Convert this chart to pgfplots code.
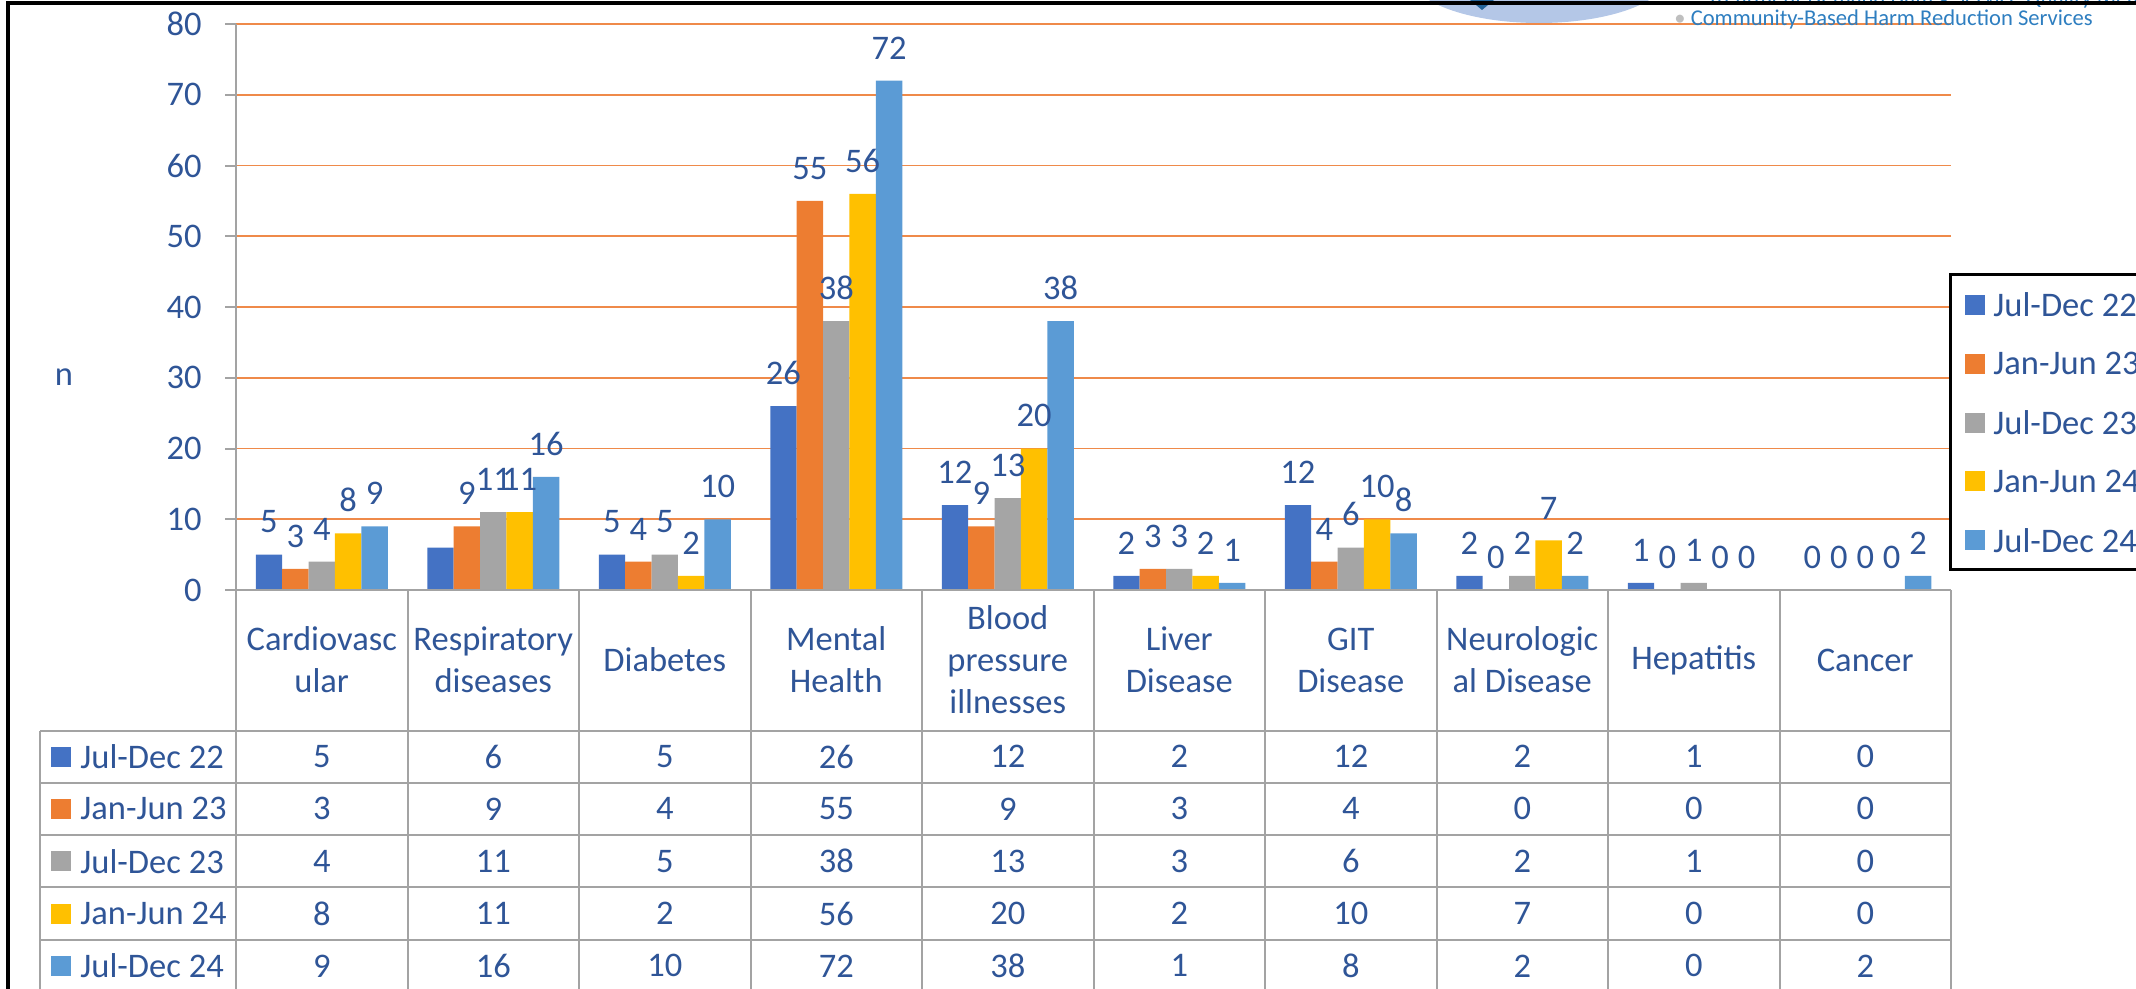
\documentclass[border=0pt]{standalone}
\usepackage{fontspec}
\setmainfont{Carlito}
\usepackage{pgfplots}
\usepackage{pgfplotstable}
\pgfplotsset{compat=1.18}
\definecolor{cA}{HTML}{4472C4}
\definecolor{cB}{HTML}{ED7D31}
\definecolor{cC}{HTML}{A5A5A5}
\definecolor{cD}{HTML}{FFC000}
\definecolor{cE}{HTML}{5B9BD5}
\definecolor{txt}{HTML}{2F5597}
\definecolor{gridc}{HTML}{EF8A4A}
\definecolor{tbl}{HTML}{A3A3A3}
\definecolor{logo}{HTML}{B4C7E7}
\definecolor{logotxt}{HTML}{2E7EC0}
\newcommand\cf{\fontsize{17.25}{21}\selectfont}

% la = data labels shown for the first series (the 6 of Respiratory has none in the reference)
\pgfplotstableread{
x a b c d e la
0.5 5 3 4 8 9 5
1.5 6 9 11 11 16 {}
2.5 5 4 5 2 10 5
3.5 26 55 38 56 72 26
4.5 12 9 13 20 38 12
5.5 2 3 3 2 1 2
6.5 12 4 6 10 8 12
7.5 2 0 2 7 2 2
8.5 1 0 1 0 0 1
9.5 0 0 0 0 2 0
}\datatable

\begin{document}
\begin{tikzpicture}[x=0.5pt,y=-0.5pt]
\useasboundingbox (0,0) rectangle (2136,989);
\clip (0,0) rectangle (2136,989);
% logo fragment
\fill[logo] (1539,-25) ellipse [x radius=129, y radius=48];
\fill[logotxt!80!black] (1470,0) -- (1494,0) -- (1482,10) -- cycle;
\node[font=\fontsize{11.3}{13}\selectfont, text=logotxt, anchor=base west, inner sep=0pt] at (1707,5) {Treatment Demand Data \textbullet\ Service Quality Measures};

\begin{axis}[
  at={(118pt,-295pt)}, anchor=south west, scale only axis,
  width=857.5pt, height=283pt,
  xmin=0, xmax=10, ymin=0, ymax=80,
  ybar=0pt, bar width=13.2pt,
  axis line style={draw=none},
  xtick=\empty, ytick={0,10,...,80}, ytick pos=left,
  tick align=outside, major tick length=5.5pt,
  tick style={draw=tbl, line width=1pt},
  ymajorgrids, grid style={draw=gridc, line width=0.9pt},
  yticklabel style={font=\cf, text=txt, anchor=east, inner sep=0pt, xshift=-11.5pt},
  /pgf/number format/assume math mode=true,
  nodes near coords,
  every node near coord/.append style={font=\cf, text=txt, inner sep=0pt, yshift=10.5pt},
  clip=false,
]
\addplot[fill=cA, draw=none, point meta=explicit symbolic] table[x=x,y=a,meta=la]{\datatable};
\addplot[fill=cB, draw=none] table[x=x,y=b]{\datatable};
\addplot[fill=cC, draw=none] table[x=x,y=c]{\datatable};
\addplot[fill=cD, draw=none] table[x=x,y=d]{\datatable};
\addplot[fill=cE, draw=none] table[x=x,y=e]{\datatable};
\end{axis}

% axis lines
\draw[tbl, line width=1pt] (236,24) -- (236,995);
\draw[tbl, line width=1pt] (225,590) -- (1951,590);
% table grid
\foreach \k in {1,...,10} \draw[tbl, line width=1pt] ({236+171.5*\k},590) -- ({236+171.5*\k},995);
\foreach \j in {0,...,5} \draw[tbl, line width=1pt] (40,{730.5+52.3*\j}) -- (1951,{730.5+52.3*\j});
\draw[tbl, line width=1pt] (40,730.5) -- (40,995);

% category labels
\foreach \i/\t in {0/{Cardiovasc\\ular}, 1/{Respiratory\\diseases}, 2/{Diabetes}, 3/{Mental\\Health}, 4/{Blood\\pressure\\illnesses}, 5/{Liver\\Disease}, 6/{GIT\\Disease}, 7/{Neurologic\\al Disease}, 8/{Hepatitis}, 9/{Cancer}}
  \node[font=\cf, text=txt, align=center, inner sep=0pt] at ({236+171.5*(\i+0.5)},660) {\t};

% table values
\foreach \c [count=\r from 0] in {a,b,c,d,e} {
  \foreach \i in {0,...,9} {
    \pgfplotstablegetelem{\i}{\c}\of\datatable
    \node[font=\cf, text=txt, inner sep=0pt] at ({236+171.5*(\i+0.5)},{756.6+52.3*\r}) {\pgfplotsretval};
  }
}

% row labels
\foreach \n/\col [count=\r from 0] in {Jul-Dec 22/cA, Jan-Jun 23/cB, Jul-Dec 23/cC, Jan-Jun 24/cD, Jul-Dec 24/cE} {
  \fill[\col] (51,{756.6+52.3*\r-10}) rectangle (71,{756.6+52.3*\r+10});
  \node[font=\cf, text=txt, anchor=west, inner sep=0pt] at (80,{756.6+52.3*\r}) {\n};
}

% legend
\fill[white] (1950,275) rectangle (2250,569);
\foreach \n/\col [count=\r from 0] in {Jul-Dec 22/cA, Jan-Jun 23/cB, Jul-Dec 23/cC, Jan-Jun 24/cD, Jul-Dec 24/cE} {
  \fill[\col] (1965,{305+58.8*\r-10}) rectangle (1985,{305+58.8*\r+10});
  \node[font=\cf, text=txt, anchor=west, inner sep=0pt] at (1993,{305+58.8*\r}) {\n};
}
\draw[black, line width=1.5pt] (1950,275) rectangle (2250,569);

% y label
\node[font=\cf, text=txt] at (64,377) {n};

% logo text
\node[font=\fontsize{11.3}{13}\selectfont, text=logotxt, anchor=west, inner sep=0pt] at (1674,19) {{\color{gray!50}\textbullet}\ Community-Based Harm Reduction Services};

% frame
\draw[black, line width=2pt] (8,3.5) rectangle (2300,1100);
\end{tikzpicture}
\end{document}
